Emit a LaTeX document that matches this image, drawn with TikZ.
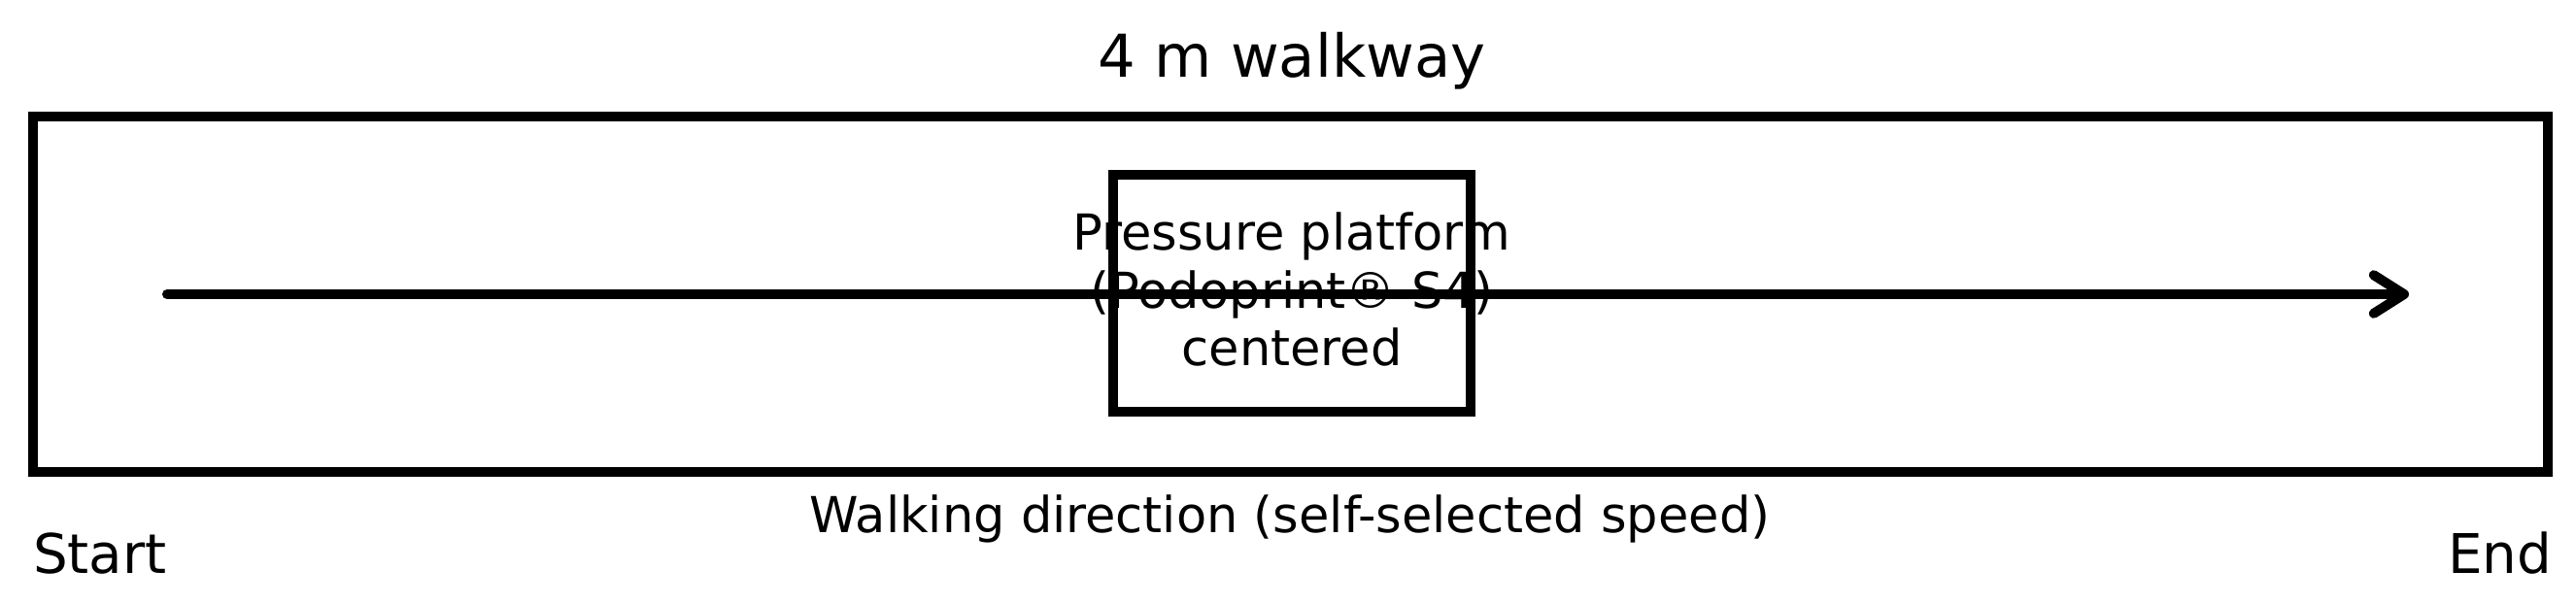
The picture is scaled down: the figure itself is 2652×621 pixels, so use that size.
\documentclass[tikz,border=0pt]{standalone}
\usepackage{fontspec}
\setmainfont{DejaVu Sans}
\usetikzlibrary{arrows.meta}
\begin{document}
\begin{tikzpicture}[x=0.24pt,y=-0.24pt,
  frame/.style={draw=black,line width=2.4pt,inner sep=0pt,outer sep=0pt},
  lbl/.style={inner sep=0pt,outer sep=0pt,text=black},
  walkarrow/.style={line width=2.4pt,line cap=round,line join=round,
    -{Straight Barb[length=7.5pt,width=9.5pt,round]}}]
\useasboundingbox[fill=white] (0,0) rectangle (2652,621);
\node[frame,minimum width=621.4pt,minimum height=87.8pt] (walkway) at (1328.5,303) {};
\node[frame,minimum width=88.3pt,minimum height=58.5pt] (platform) at (1330,302) {};
\node[lbl,font=\fontsize{12.25pt}{14.3pt}\selectfont,align=center] (platformtext) at (1330,298) {Pressure platform\\(Podoprint® S4)\\centered};
\coordinate (a0) at (172,303);
\coordinate (a1) at (2480,303);
\draw[walkarrow] (a0) -- (a1);
\node[lbl,font=\fontsize{14.6pt}{17pt}\selectfont,anchor=base] (title) at (1330,79) {4 m walkway};
\node[lbl,font=\fontsize{12.25pt}{14pt}\selectfont,anchor=base] (dir) at (1328,548) {Walking direction (self-selected speed)};
\node[lbl,font=\fontsize{13.5pt}{15pt}\selectfont,anchor=base west] (start) at (34,590) {Start};
\node[lbl,font=\fontsize{13.5pt}{15pt}\selectfont,anchor=base east] (end) at (2627,590) {End};
\end{tikzpicture}
\end{document}
